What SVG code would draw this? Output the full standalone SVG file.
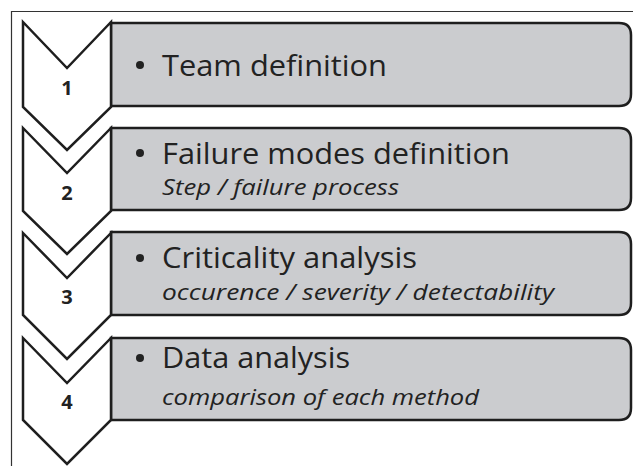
<svg xmlns="http://www.w3.org/2000/svg" width="633" height="466" viewBox="0 0 633 466">
<style>
.frame{fill:none;stroke:#333;stroke-width:1.2}
.chev{fill:#fff;stroke:#1e1e1e;stroke-width:2.5;stroke-linejoin:miter}
.box{fill:#cbcccf;stroke:#1e1e1e;stroke-width:2.5}
.num{font-family:"Open Sans","Liberation Sans",sans-serif;font-weight:bold;font-size:20px;fill:#222;text-anchor:middle}
.main{font-family:"Open Sans","Liberation Sans",sans-serif;font-size:30px;fill:#222}
.sub{font-family:"Open Sans","Liberation Sans",sans-serif;font-style:italic;font-size:22px;fill:#222}
.bul{fill:#222}
</style>
<rect width="633" height="466" fill="#fff"/>
<path class="frame" d="M11.5 466 V11.5 H633"/>
<g id="connectors"></g>
<g id="step1">
<path class="box" d="M111 23 H619 Q631 23 631 35 V94 Q631 106 619 106 H111 Z"/>
<path class="chev" d="M23 22 L67 68 L111 22 V107 L67 150 L23 107 Z"/>
<text class="num" x="67" y="95">1</text>
<circle class="bul" cx="140" cy="65" r="4"/>
<text class="main" x="162" y="76" textLength="225" lengthAdjust="spacingAndGlyphs">Team definition</text>
</g>
<g id="step2">
<path class="box" d="M111 128 H619 Q631 128 631 140 V198 Q631 210 619 210 H111 Z"/>
<path class="chev" d="M23 128 L67 173 L111 128 V211 L67 254 L23 211 Z"/>
<text class="num" x="67" y="200">2</text>
<circle class="bul" cx="140" cy="153" r="4"/>
<text class="main" x="162" y="164" textLength="348" lengthAdjust="spacingAndGlyphs">Failure modes definition</text>
<text class="sub" x="162" y="195" textLength="237" lengthAdjust="spacingAndGlyphs">Step / failure process</text>
</g>
<g id="step3">
<path class="box" d="M111 232 H619 Q631 232 631 244 V303 Q631 315 619 315 H111 Z"/>
<path class="chev" d="M23 233 L67 278 L111 233 V315 L67 359 L23 315 Z"/>
<text class="num" x="67" y="304">3</text>
<circle class="bul" cx="140" cy="258" r="4"/>
<text class="main" x="162" y="268" textLength="255" lengthAdjust="spacingAndGlyphs">Criticality analysis</text>
<text class="sub" x="162" y="300" textLength="392" lengthAdjust="spacingAndGlyphs">occurence / severity / detectability</text>
</g>
<g id="step4">
<path class="box" d="M111 338 H619 Q631 338 631 350 V408 Q631 420 619 420 H111 Z"/>
<path class="chev" d="M23 338 L67 383 L111 338 V420 L67 464 L23 420 Z"/>
<text class="num" x="67" y="409">4</text>
<circle class="bul" cx="140" cy="358" r="4"/>
<text class="main" x="162" y="368" textLength="188" lengthAdjust="spacingAndGlyphs">Data analysis</text>
<text class="sub" x="162" y="405" textLength="317" lengthAdjust="spacingAndGlyphs">comparison of each method</text>
</g>
</svg>
